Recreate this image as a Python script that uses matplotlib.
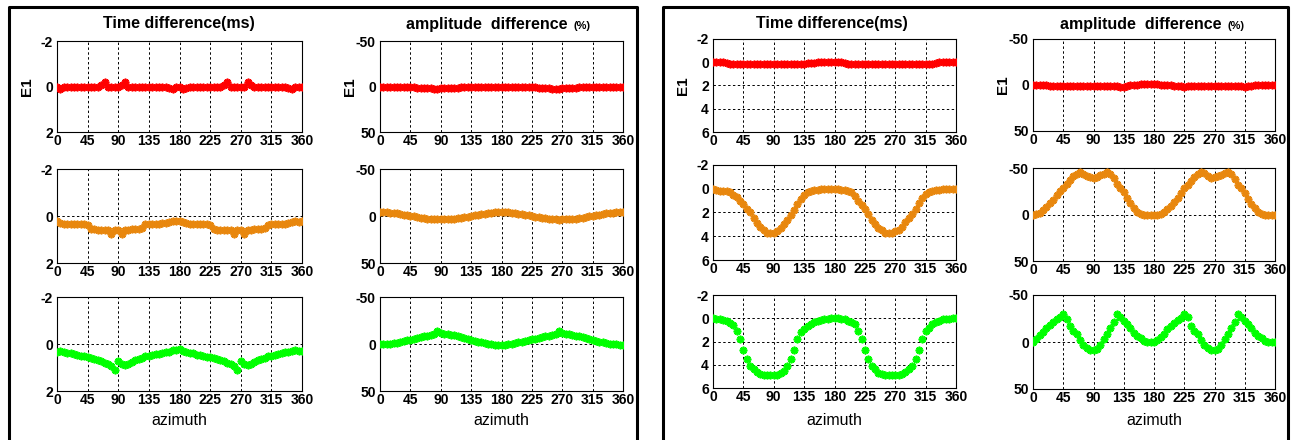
import numpy as np
import matplotlib
matplotlib.use('Agg')
import matplotlib.pyplot as plt
from matplotlib.lines import Line2D

plt.rcParams['font.family'] = ['Liberation Sans', 'DejaVu Sans']
plt.rcParams['axes.unicode_minus'] = False

# azimuth sampling (degrees) and ticks
azimuth = np.arange(0, 361, 5)
x_ticks = [0, 45, 90, 135, 180, 225, 270, 315, 360]
time_ticks_a = [-2, 0, 2]
time_ticks_b = [-2, 0, 2, 4, 6]
amp_ticks = [-50, 0, 50]

red = '#ff0000'
orange = '#e8870e'
green = '#00ff00'

# ---- left block: time difference (ms) ----
a_time_1 = [0.0, 0.1, 0.0, 0.0, 0.0, 0.0, 0.0, 0.0, 0.0, 0.0,
            0.0, 0.0, 0.0, -0.05, -0.2, 0.0, 0.0, 0.0, 0.0, -0.05,
            -0.2, 0.0, 0.0, 0.0, 0.0, 0.0, 0.0, 0.0, 0.0, 0.0,
            0.0, 0.0, 0.0, 0.05, 0.12, 0.0, 0.0, 0.12, 0.05, 0.0,
            0.0, 0.0, 0.0, 0.0, 0.0, 0.0, 0.0, 0.0, 0.0, -0.05,
            -0.2, 0.0, 0.0, 0.0, 0.0, 0.0, -0.2, -0.05, 0.0, 0.0,
            0.0, 0.0, 0.0, 0.0, 0.0, 0.0, 0.0, 0.0, 0.05, 0.12,
            0.0, 0.0, 0.0]
a_time_2 = [0.2, 0.3, 0.35, 0.35, 0.35, 0.35, 0.35, 0.35, 0.35, 0.4,
            0.55, 0.55, 0.6, 0.6, 0.6, 0.6, 0.75, 0.6, 0.6, 0.78,
            0.6, 0.6, 0.55, 0.55, 0.55, 0.5, 0.35, 0.35, 0.35, 0.35,
            0.35, 0.3, 0.3, 0.25, 0.2, 0.22, 0.2, 0.25, 0.3, 0.35,
            0.35, 0.35, 0.35, 0.35, 0.35, 0.4, 0.55, 0.6, 0.6, 0.6,
            0.6, 0.6, 0.75, 0.6, 0.6, 0.78, 0.6, 0.6, 0.55, 0.55,
            0.55, 0.5, 0.4, 0.35, 0.35, 0.35, 0.35, 0.35, 0.3, 0.25,
            0.2, 0.25, 0.2]
a_time_3 = [0.33, 0.3, 0.35, 0.37, 0.38, 0.42, 0.47, 0.5, 0.52, 0.57,
            0.6, 0.64, 0.68, 0.74, 0.8, 0.85, 0.93, 1.1, 0.72, 0.86,
            0.89, 0.85, 0.75, 0.7, 0.64, 0.58, 0.53, 0.5, 0.45, 0.44,
            0.42, 0.38, 0.35, 0.33, 0.25, 0.27, 0.23, 0.3, 0.33, 0.37,
            0.4, 0.45, 0.47, 0.52, 0.55, 0.57, 0.6, 0.64, 0.68, 0.74,
            0.8, 0.85, 0.93, 1.1, 0.72, 0.86, 0.89, 0.85, 0.75, 0.7,
            0.64, 0.58, 0.53, 0.5, 0.45, 0.42, 0.38, 0.35, 0.33, 0.3,
            0.25, 0.3, 0.28]

# ---- left block: amplitude difference (%) ----
a_amp_1 = [0, 0.5, 0.5, 0.5, 0.5, 0.5, 0.5, 0.5, 0.5, 1,
           1, 1.5, 2, 2, 2, 2, 2.5, 2.5, 2, 2,
           2, 2, 1.5, 1.5, 1, 0.5, 0.5, 0, 0, 0,
           0, 0, 0, 0, 0, 0, 0, 0, 0, 0.5,
           0.5, 0.5, 0.5, 0.5, 0.5, 1, 1, 1.5, 2, 2,
           2, 2.5, 2.5, 2.5, 2, 2, 2, 2, 1.5, 1,
           1, 0.5, 0.5, 0, 0, 0, 0, 0, 0, 0,
           0, 0, 0]
a_amp_2 = [-4.5, -4.3, -4, -3.7, -3.2, -2.7, -2, -1.5, -0.8, 0,
           0.5, 1.2, 1.8, 2.3, 2.8, 3.2, 3.5, 3.7, 3.6, 3.6,
           3.4, 3.1, 2.8, 2.3, 1.8, 1.2, 0.6, 0, -0.7, -1.3,
           -2, -2.6, -3.2, -3.7, -4.2, -4.4, -4.5, -4.3, -4, -3.6,
           -3.1, -2.6, -2, -1.4, -0.7, 0, 0.6, 1.2, 1.8, 2.4,
           2.9, 3.3, 3.6, 3.8, 3.7, 3.6, 3.4, 3.1, 2.7, 2.2,
           1.6, 1, 0.5, 0, -0.7, -1.4, -2, -2.7, -3.2, -3.7,
           -4.1, -4.4, -4.5]
a_amp_3 = [0, 0.5, 0, -0.5, -1, -1.5, -2.2, -3, -3.8, -4.7,
           -5.5, -6.3, -7.2, -8, -9, -9.8, -10.5, -14, -11.5, -11,
           -10.4, -10, -9.2, -8.3, -7.3, -6.3, -5.2, -4.3, -3.4, -2.6,
           -1.8, -1, -0.4, 0, 0.8, 1, 1, 0.6, 0.2, -0.3,
           -1, -1.6, -2.4, -3.2, -4, -5, -5.8, -6.6, -7.4, -8.2,
           -9, -9.8, -10.6, -14, -11.5, -11, -10.4, -9.8, -9, -8.2,
           -7.2, -6.2, -5.2, -4.3, -3.4, -2.6, -1.8, -1, -0.4, 0,
           0.5, 0.8, 1]

# ---- right block: time difference (ms) ----
b_time_1 = [-0.05, -0.05, -0.05, -0.05, 0.1, 0.15, 0.15, 0.15, 0.15, 0.15,
            0.15, 0.15, 0.15, 0.15, 0.15, 0.15, 0.15, 0.15, 0.15, 0.15,
            0.15, 0.15, 0.15, 0.15, 0.15, 0.15, 0.15, 0.15, 0.1, 0.1,
            0.05, -0.05, -0.05, -0.05, -0.05, -0.05, -0.05, -0.05, -0.05, 0.05,
            0.15, 0.15, 0.15, 0.15, 0.15, 0.15, 0.15, 0.15, 0.15, 0.15,
            0.15, 0.15, 0.15, 0.15, 0.15, 0.15, 0.15, 0.15, 0.15, 0.15,
            0.15, 0.15, 0.15, 0.15, 0.15, 0.15, 0.1, -0.05, -0.05, -0.05,
            -0.05, -0.05, -0.05]
b_time_2 = [0, 0.1, 0.15, 0.15, 0.2, 0.3, 0.5, 0.7, 1.0, 1.3,
            1.7, 2.0, 2.5, 2.9, 3.2, 3.5, 3.7, 3.75, 3.7, 3.6,
            3.3, 3.0, 2.6, 2.2, 1.8, 1.3, 0.9, 0.5, 0.25, 0.15,
            0.1, 0.1, 0.05, 0.05, 0, 0, 0, 0.05, 0.1, 0.1,
            0.15, 0.3, 0.6, 1.0, 1.4, 1.7, 2.1, 2.6, 3.0, 3.3,
            3.5, 3.7, 3.75, 3.75, 3.6, 3.5, 3.2, 2.8, 2.5, 2.1,
            1.7, 1.2, 0.8, 0.45, 0.25, 0.15, 0.1, 0.1, 0.05, 0.05,
            0, 0.05, 0]
b_time_3 = [0, 0.05, 0.1, 0.15, 0.25, 0.4, 0.6, 1.1, 1.75, 2.7,
            3.5, 4.1, 4.4, 4.6, 4.8, 4.85, 4.9, 4.9, 4.9, 4.85,
            4.7, 4.5, 4.1, 3.5, 2.7, 1.75, 1.2, 0.9, 0.65, 0.5,
            0.35, 0.25, 0.15, 0.1, 0.05, 0, 0, 0, 0.05, 0.1,
            0.2, 0.3, 0.5, 1.1, 1.75, 2.7, 3.5, 4.1, 4.4, 4.7,
            4.8, 4.85, 4.9, 4.9, 4.9, 4.85, 4.8, 4.6, 4.4, 4.1,
            3.5, 2.7, 1.75, 1.1, 0.8, 0.5, 0.35, 0.25, 0.1, 0.05,
            0.05, 0, 0]

# ---- right block: amplitude difference (%) ----
b_amp_1 = [0, 0, 0, 0.5, 0.5, 1, 1, 1, 1.5, 1.5,
           1.5, 1.5, 1, 1, 1, 1, 1, 1, 1, 1,
           1, 1, 1, 1, 1.5, 1.5, 2, 2, 1, 0.5,
           0, -0.5, -1, -1, -1, -1, -1, -1, -0.5, -0.5,
           0, 0.5, 1, 1.5, 1.5, 2, 1.5, 1.5, 1, 1,
           1, 1, 1, 1, 1, 1, 1, 1, 1, 1,
           1, 1, 1.5, 2, 1.5, 1, 0.5, 0, -0.5, -0.5,
           -0.5, -0.5, 0]
b_amp_2 = [0, -1, -2, -5, -8, -12, -16, -21, -25, -29,
           -33, -37, -41, -44, -46, -44, -41, -40, -39, -40,
           -42, -44, -46, -44, -39, -33, -29, -24, -18, -12,
           -7, -3, -1, 0, 1, 1, 1, 0, -1, -3,
           -6, -9, -13, -18, -23, -28, -32, -36, -40, -44,
           -46, -45, -41, -39, -40, -41, -43, -45, -46, -44,
           -38, -32, -28, -23, -17, -11, -7, -3, -1, 0,
           1, 1, 1]
b_amp_3 = [0, -3, -7, -11, -15, -18, -21, -24, -27, -30,
           -25, -17, -12, -8, -2, 3, 6, 8, 9, 7,
           3, -3, -9, -15, -21, -30, -27, -22, -19, -15,
           -10, -6, -4, -1, 0, 0, 0, -2, -5, -9,
           -14, -17, -20, -23, -26, -30, -27, -17, -12, -8,
           -2, 3, 6, 8, 9, 7, 3, -3, -9, -15,
           -21, -30, -27, -22, -19, -15, -10, -6, -4, -1,
           0, 0, 0]

W, H = 1292, 440
fig = plt.figure(figsize=(W / 100, H / 100), dpi=100)


def add_ax(x0, y0, x1, y1):
    # pixel box (top-left origin) -> figure fraction
    return fig.add_axes([x0 / W, 1 - y1 / H, (x1 - x0) / W, (y1 - y0) / H])


def ftext(x, y, s, **kw):
    fig.text(x / W, 1 - y / H, s, **kw)


def draw(ax, vals, color, yticks):
    ax.plot(azimuth, vals, linestyle='none', marker=(8, 2, 0), markersize=5.5,
            markeredgewidth=1.3, color=color, zorder=3)
    ax.set_xlim(0, 360)
    ax.set_ylim(yticks[-1], yticks[0])
    ax.set_xticks(x_ticks)
    ax.set_yticks(yticks)
    ax.grid(True, color='k', linestyle=(0, (2.5, 2.5)), linewidth=0.7)
    ax.tick_params(length=0, labelsize=10, pad=1.5)
    ax.tick_params(axis='y', pad=3)
    for lab in ax.get_xticklabels() + ax.get_yticklabels():
        lab.set_fontweight('bold')
    for sp in ax.spines.values():
        sp.set_linewidth(0.8)


# panel layout in pixels: (x0, y0, x1, y1)
blocks = [
    {'cols': [(57, 302), (380, 623)],
     'rows': [[(41, 132), (169, 263), (297, 391)],
              [(41, 132), (169, 263), (297, 391)]],
     'time': [a_time_1, a_time_2, a_time_3],
     'amp': [a_amp_1, a_amp_2, a_amp_3],
     'tticks': time_ticks_a},
    {'cols': [(713, 956), (1033, 1275)],
     'rows': [[(39, 132), (165, 260), (295, 388)],
              [(39, 131), (168, 261), (295, 389)]],
     'time': [b_time_1, b_time_2, b_time_3],
     'amp': [b_amp_1, b_amp_2, b_amp_3],
     'tticks': time_ticks_b},
]
colors = [red, orange, green]

for b in blocks:
    for c, (x0, x1) in enumerate(b['cols']):
        series = b['time'] if c == 0 else b['amp']
        yt = b['tticks'] if c == 0 else amp_ticks
        for r, (y0, y1) in enumerate(b['rows'][c]):
            ax = add_ax(x0, y0, x1, y1)
            draw(ax, series[r], colors[r], yt)
            if r == 0:
                ftext(x0 - 30, (y0 + y1) / 2, 'E1', rotation=90, ha='center',
                      va='center', fontsize=11, fontweight='bold')
            if r == 2:
                ftext((x0 + x1) / 2, 420, 'azimuth', ha='center', va='center',
                      fontsize=11.5)

# titles
ftext(179, 28, 'Time difference(ms)', ha='center', va='baseline',
      fontsize=11.5, fontweight='bold')
ftext(568, 29, 'amplitude  difference', ha='right', va='baseline',
      fontsize=11.5, fontweight='bold')
ftext(574, 29, '(%)', ha='left', va='baseline', fontsize=8, fontweight='bold')
ftext(832, 28, 'Time difference(ms)', ha='center', va='baseline',
      fontsize=11.5, fontweight='bold')
ftext(1221, 29, 'amplitude  difference', ha='right', va='baseline',
      fontsize=11.5, fontweight='bold')
ftext(1228, 29, '(%)', ha='left', va='baseline', fontsize=8, fontweight='bold')

# black frames round each block (open at the bottom)
for (fx0, fx1) in [(9, 637), (663, 1288)]:
    xs = [fx0 / W, fx0 / W, fx1 / W, fx1 / W]
    ys = [-0.1, 1 - 7 / H, 1 - 7 / H, -0.1]
    fig.add_artist(Line2D(xs, ys, color='k', linewidth=2.2,
                          transform=fig.transFigure))

fig.savefig('out.png', dpi=100)
